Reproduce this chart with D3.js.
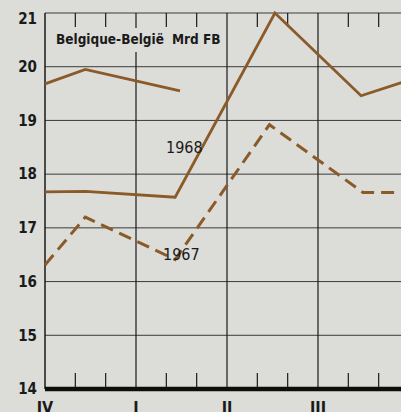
<!DOCTYPE html>
<html>
<head>
<meta charset="utf-8">
<script src="https://cdn.jsdelivr.net/npm/d3@7"></script>
<style>
  html, body { margin:0; padding:0; background:#dcdcd8; overflow:hidden; }
  svg { display:block; }
  text { font-family:"Liberation Sans Narrow","DejaVu Sans Condensed",sans-serif; fill:#1a1a1a; }
</style>
</head>
<body>
<div id="chart"></div>
<script>
// quarters (x position given in months from start of quarter IV)
var quarterLabels = ['IV', 'I', 'II', 'III'];
var quarterMonths = [0, 3, 6, 9];
var yTicks = [14, 15, 16, 17, 18, 19, 20, 21];

// 1968 (solid)
var months1968 = [0, 1.33, 4.29, 7.58, 10.42, 12];
var values1968 = [17.67, 17.68, 17.57, 21.0, 19.46, 19.75];
// 1967 (dashed)
var months1967 = [0, 1.33, 4.29, 7.4, 10.48, 12];
var values1967 = [16.31, 17.2, 16.41, 18.92, 17.66, 17.66];
// following year, first months (solid, top left)
var months1969 = [0, 1.33, 4.45];
var values1969 = [19.68, 19.95, 19.55];

var svgWidth = 401, svgHeight = 412;
var brown = '#8a5a28', ink = '#1a1a1a', paper = '#dcdcd8';

var x = d3.scaleLinear().domain([0, 12]).range([45, 409]);
var y = d3.scaleLinear().domain([14, 21]).range([389, 13]);

var svg = d3.select('#chart').append('svg').attr('width', svgWidth).attr('height', svgHeight);

// horizontal grid
svg.append('g').selectAll('line').data(yTicks.slice(1)).enter().append('line')
  .attr('x1', x(0)).attr('x2', svgWidth)
  .attr('y1', function(d){ return y(d); }).attr('y2', function(d){ return y(d); })
  .attr('stroke', '#3a3a3a').attr('stroke-width', 1);

// vertical quarter lines
svg.append('g').selectAll('line').data([3, 6, 9]).enter().append('line')
  .attr('x1', function(d){ return x(d); }).attr('x2', function(d){ return x(d); })
  .attr('y1', y(21)).attr('y2', y(14))
  .attr('stroke', ink).attr('stroke-width', 1.2);

// month ticks, top and bottom
var monthTicks = [1, 2, 4, 5, 7, 8, 10, 11];
svg.append('g').selectAll('line').data(monthTicks).enter().append('line')
  .attr('x1', function(d){ return x(d); }).attr('x2', function(d){ return x(d); })
  .attr('y1', y(21)).attr('y2', y(21) + 14)
  .attr('stroke', ink).attr('stroke-width', 1.2);
svg.append('g').selectAll('line').data(monthTicks).enter().append('line')
  .attr('x1', function(d){ return x(d); }).attr('x2', function(d){ return x(d); })
  .attr('y1', y(14) - 16).attr('y2', y(14))
  .attr('stroke', ink).attr('stroke-width', 1.2);

// title box hides the grid behind it
svg.append('rect').attr('x', 50).attr('y', 28).attr('width', 172).attr('height', 24).attr('fill', paper);
svg.append('text').attr('x', 56).attr('y', 44)
  .style('font-size', '13.5px').style('font-weight', 'bold')
  .text('Belgique-België');
svg.append('text').attr('x', 172).attr('y', 44)
  .style('font-size', '13.5px').style('font-weight', 'bold')
  .text('Mrd FB');

// left axis
svg.append('line').attr('x1', x(0)).attr('x2', x(0)).attr('y1', y(21)).attr('y2', y(14))
  .attr('stroke', ink).attr('stroke-width', 1.5);

// y labels
svg.append('g').selectAll('text').data(yTicks).enter().append('text')
  .attr('x', 37).attr('y', function(d){ return Math.max(y(d), 19); })
  .attr('dy', '0.35em').attr('text-anchor', 'end')
  .style('font-size', '15px').style('font-weight', 'bold')
  .text(function(d){ return d; });

// lines
var line = d3.line().x(function(d){ return x(d[0]); }).y(function(d){ return y(d[1]); });
function pairs(ms, vs){ return ms.map(function(m, i){ return [m, vs[i]]; }); }

svg.append('path').datum(pairs(months1969, values1969)).attr('d', line)
  .attr('fill', 'none').attr('stroke', brown).attr('stroke-width', 2.8).attr('stroke-linejoin', 'miter');
svg.append('path').datum(pairs(months1968, values1968)).attr('d', line)
  .attr('fill', 'none').attr('stroke', brown).attr('stroke-width', 2.8).attr('stroke-linejoin', 'miter');
svg.append('path').datum(pairs(months1967, values1967)).attr('d', line)
  .attr('fill', 'none').attr('stroke', brown).attr('stroke-width', 3)
  .attr('stroke-dasharray', '13,7');

// series labels
svg.append('text').attr('x', 166).attr('y', 153).style('font-size', '16px').text('1968');
svg.append('text').attr('x', 163).attr('y', 260).style('font-size', '16px').text('1967');

// bottom axis
svg.append('line').attr('x1', x(0)).attr('x2', svgWidth).attr('y1', y(14)).attr('y2', y(14))
  .attr('stroke', '#0d0d0d').attr('stroke-width', 4.5);

// quarter labels (cut by the lower edge, as in the original)
svg.append('g').selectAll('text').data(quarterMonths).enter().append('text')
  .attr('x', function(d){ return x(d); }).attr('y', 413)
  .attr('text-anchor', 'middle')
  .style('font-size', '16px').style('font-weight', 'bold')
  .text(function(d, i){ return quarterLabels[i]; });
</script>
</body>
</html>
